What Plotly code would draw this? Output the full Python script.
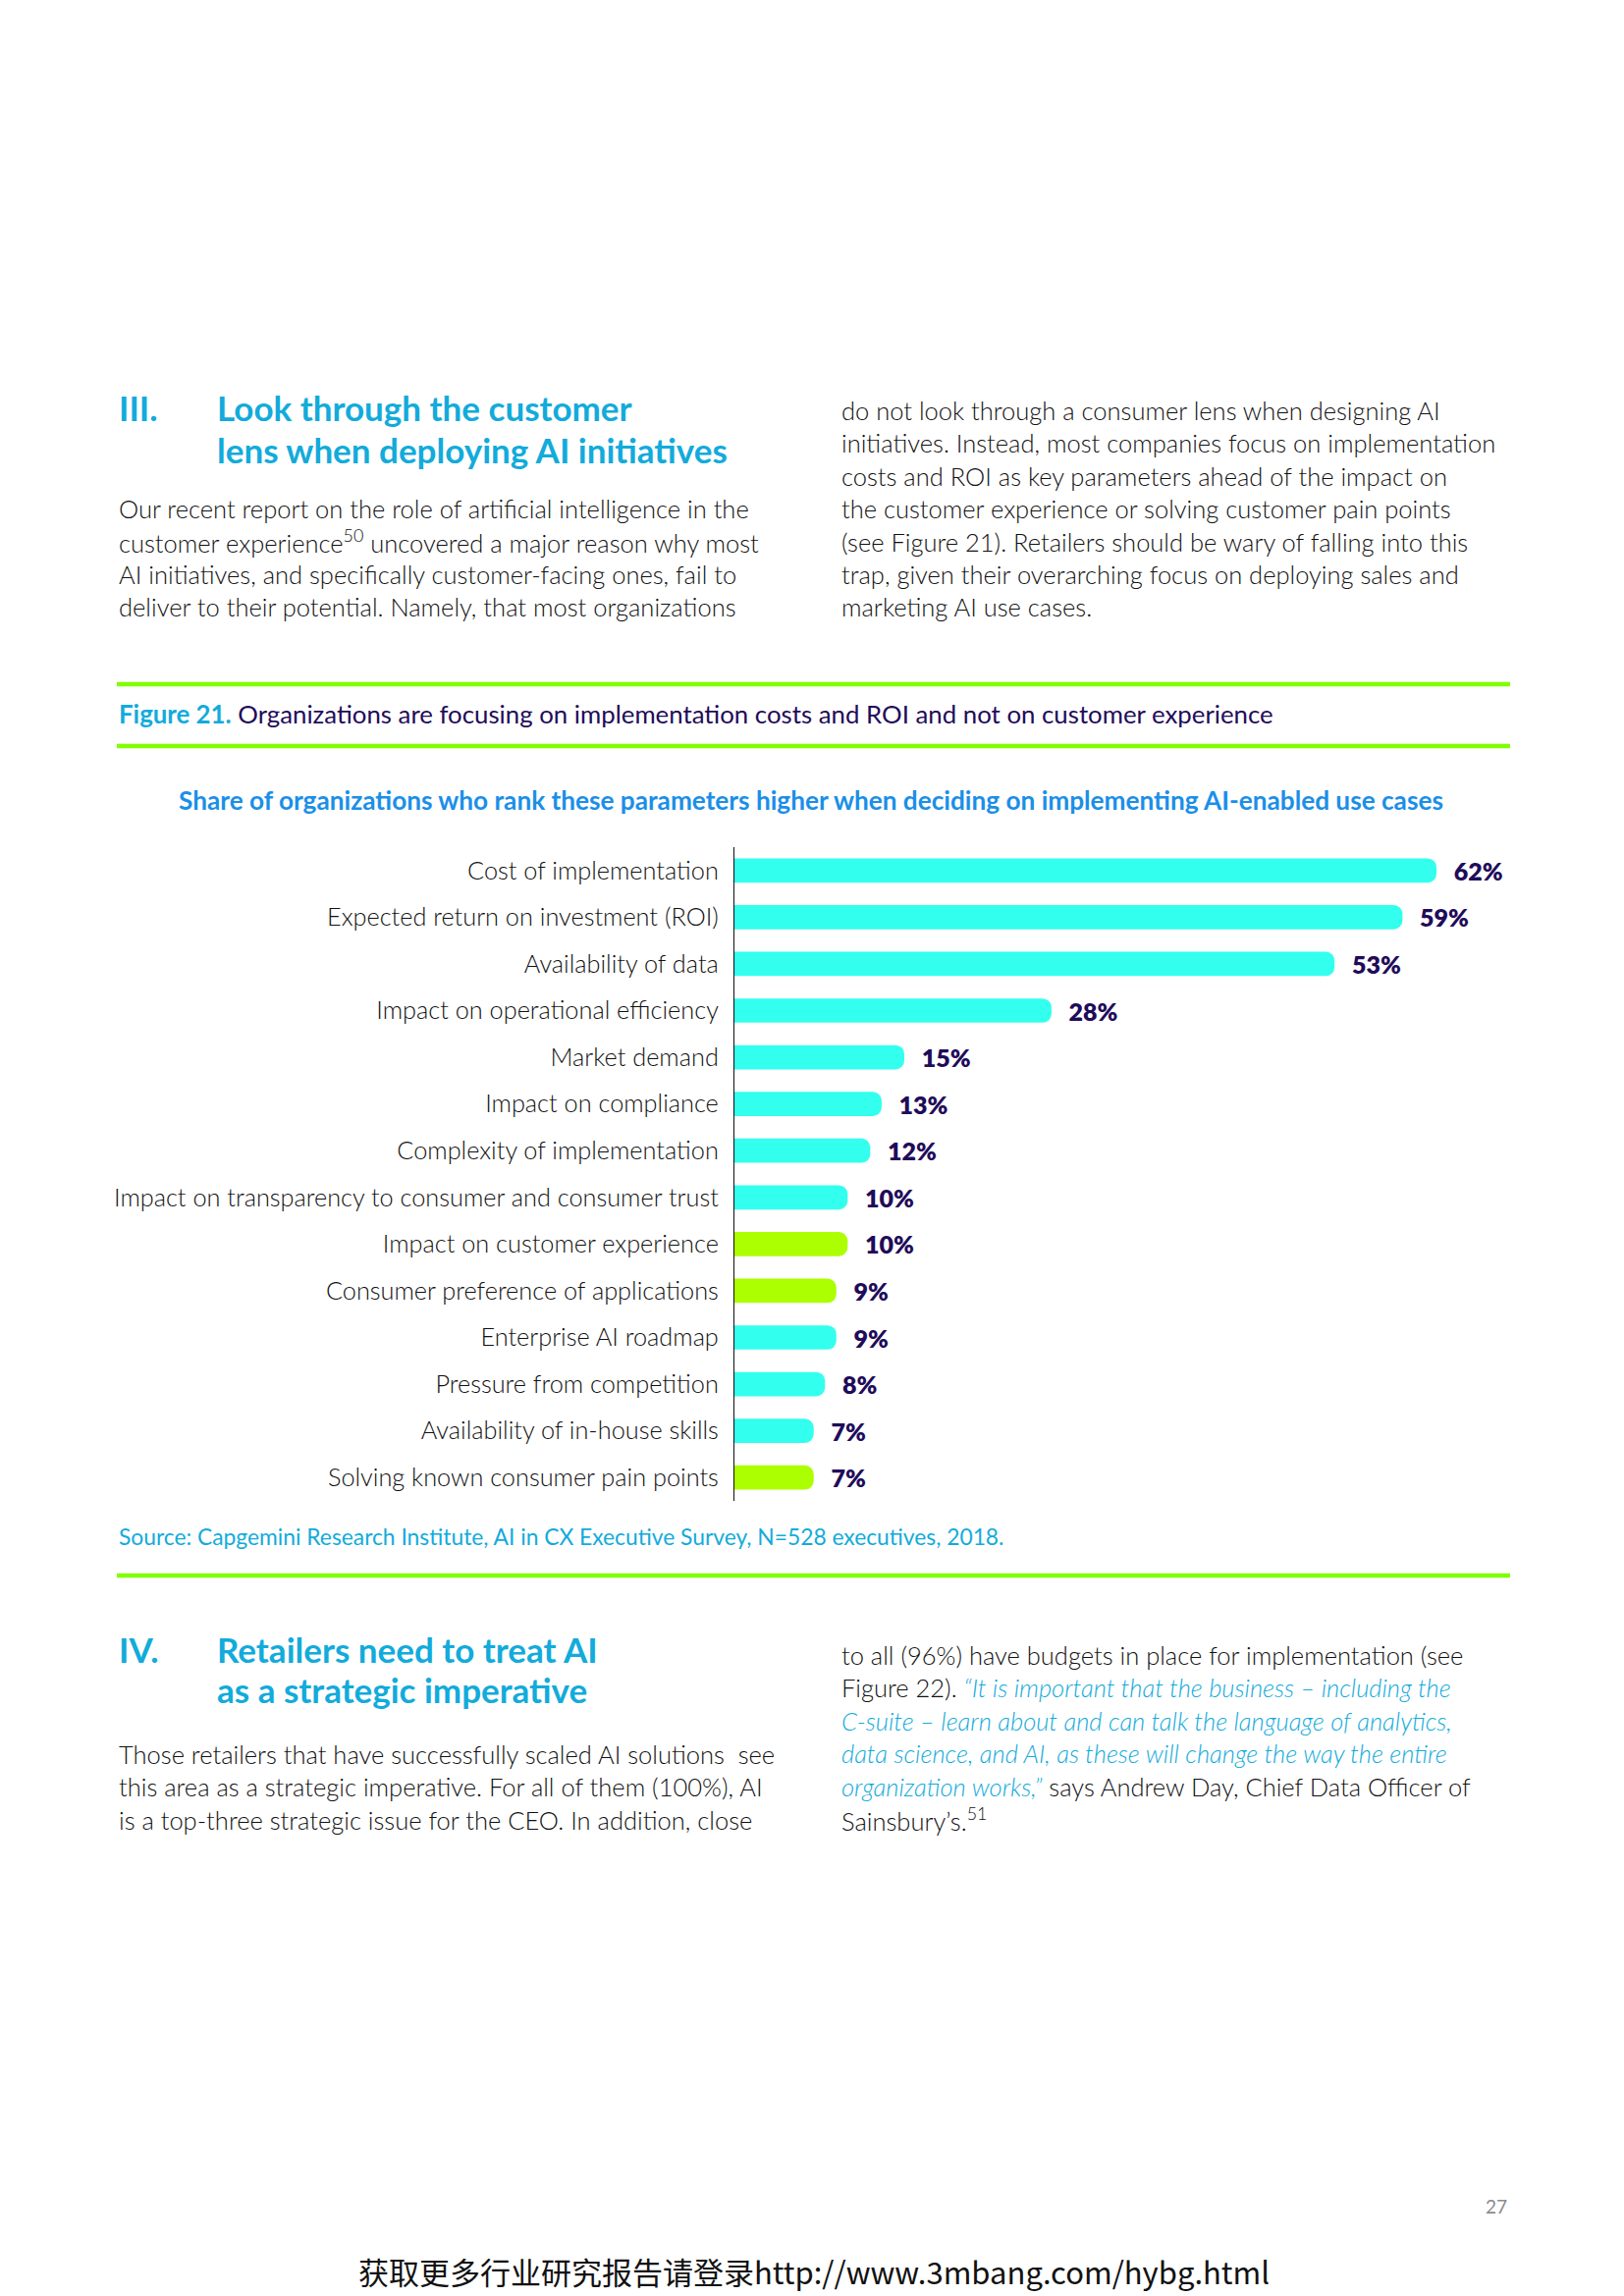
import plotly.graph_objects as go

# page is 1654x2339; the HTML body adds an 8px margin, so the figure is
# drawn 8px in from the top-left corner and is 8px smaller each way.
PAGE_W, PAGE_H = 1654, 2339
OFF = 8
W, H = PAGE_W - OFF, PAGE_H - OFF

# ---------------- data ----------------
categories = [
    "Cost of implementation",
    "Expected return on investment (ROI)",
    "Availability of data",
    "Impact on operational efficiency",
    "Market demand",
    "Impact on compliance",
    "Complexity of implementation",
    "Impact on transparency to consumer and consumer trust",
    "Impact on customer experience",
    "Consumer preference of applications",
    "Enterprise AI roadmap",
    "Pressure from competition",
    "Availability of in-house skills",
    "Solving known consumer pain points",
]
values = [62, 59, 53, 28, 15, 13, 12, 10, 10, 9, 9, 8, 7, 7]
customer_focused = [False, False, False, False, False, False, False, False,
                    True, True, False, False, False, True]

CYAN = "#33ffee"
LIME = "#acff00"
RULE = "#80ff00"
BLUE = "#12abdb"
SUB_BLUE = "#1b8fe8"
NAVY = "#1f0c5a"
TEXT = "#111111"

bar_colors = [LIME if c else CYAN for c in customer_focused]
labels = ["\u00a0\u00a0\u2009" + f"{v}%" for v in values]


def px(x):
    return (x - OFF) / W


def py(y):
    return 1 - (y - OFF) / H


fig = go.Figure()
fig.add_trace(go.Bar(
    y=categories, x=values, orientation="h",
    marker=dict(color=bar_colors, line=dict(width=0), cornerradius=9),
    width=0.52,
    text=labels, textposition="outside", constraintext="none",
    textfont=dict(family="Lato", size=25, color=NAVY, weight=800),
    cliponaxis=False, hoverinfo="skip",
))

annotations = []


def txt(x, y, s, size=25.5, color=TEXT, weight=300, family="Lato", xanchor="left"):
    annotations.append(dict(
        x=px(x), y=py(y), xref="paper", yref="paper", text=s, showarrow=False,
        xanchor=xanchor, yanchor="middle",
        font=dict(family=family, size=size, color=color, weight=weight),
    ))


HEAD = 35
LS = 33.4

# Section III heading
txt(119, 415, "III.", size=HEAD, color=BLUE, weight=700)
txt(219, 415, "Look through the customer", size=HEAD, color=BLUE, weight=700)
txt(219, 458, "lens when deploying AI initiatives", size=HEAD, color=BLUE, weight=700)

left1 = [
    "Our recent report on the role of artificial intelligence in the",
    "customer experience<sup>50</sup> uncovered a major reason why most",
    "AI initiatives, and specifically customer-facing ones, fail to",
    "deliver to their potential. Namely, that most organizations",
]
for i, s in enumerate(left1):
    txt(119, 518 + i * LS, s)

right1 = [
    "do not look through a consumer lens when designing AI",
    "initiatives. Instead, most companies focus on implementation",
    "costs and ROI as key parameters ahead of the impact on",
    "the customer experience or solving customer pain points",
    "(see Figure 21). Retailers should be wary of falling into this",
    "trap, given their overarching focus on deploying sales and",
    "marketing AI use cases.",
]
for i, s in enumerate(right1):
    txt(855, 418 + i * LS, s)

# Figure caption
txt(119, 727, f"<span style='color:{BLUE}'><b>Figure 21.</b></span> "
    "Organizations are focusing on implementation costs and ROI and not on customer experience",
    size=25.8, color=NAVY, weight=400)

# Chart subtitle
txt(826, 815, "Share of organizations who rank these parameters higher when deciding on implementing AI-enabled use cases",
    size=26.2, color=SUB_BLUE, weight=700, xanchor="center")

# Source
txt(119, 1565, "Source: Capgemini Research Institute, AI in CX Executive Survey, N=528 executives, 2018.",
    size=22.8, color=BLUE, weight=400)

# Section IV
txt(119, 1680, "IV.", size=HEAD, color=BLUE, weight=700)
txt(219, 1680, "Retailers need to treat AI", size=HEAD, color=BLUE, weight=700)
txt(219, 1721, "as a strategic imperative", size=HEAD, color=BLUE, weight=700)

left2 = [
    "Those retailers that have successfully scaled AI solutions  see",
    "this area as a strategic imperative. For all of them (100%), AI",
    "is a top-three strategic issue for the CEO. In addition, close",
]
for i, s in enumerate(left2):
    txt(119, 1787 + i * LS, s)

qs = f"<span style='color:{BLUE}'><i>"
qe = "</i></span>"
right2 = [
    "to all (96%) have budgets in place for implementation (see",
    "Figure 22). " + qs + "“It is important that the business – including the" + qe,
    qs + "C-suite – learn about and can talk the language of analytics," + qe,
    qs + "data science, and AI, as these will change the way the entire" + qe,
    qs + "organization works,”" + qe + " says Andrew Day, Chief Data Officer of",
    "Sainsbury’s.<sup>51</sup>",
]
for i, s in enumerate(right2):
    txt(855, 1686 + i * LS, s)

# Page number and footer
txt(1524, 2247, "27", size=19, color="#8a8a8a", weight=400, xanchor="center")
txt(829, 2313, "获取更多行业研究报告请登录http://www.3mbang.com/hybg.html",
    size=31, color="#111111", weight=400, family="Noto Sans CJK SC", xanchor="center")

shapes = []
for yy in (697, 760, 1605):
    shapes.append(dict(type="line", xref="paper", yref="paper",
                       x0=px(119), x1=px(1538), y0=py(yy), y1=py(yy),
                       line=dict(color=RULE, width=4.5)))

fig.update_layout(
    width=W, height=H,
    margin=dict(l=0, r=0, t=0, b=0),
    paper_bgcolor="white", plot_bgcolor="white",
    showlegend=False,
    annotations=annotations,
    shapes=shapes,
    xaxis=dict(domain=[px(748), px(1538)], range=[0, 68.5], visible=False,
               showgrid=False, zeroline=False, fixedrange=True),
    yaxis=dict(domain=[py(1529), py(863)], autorange="reversed",
               showgrid=False, zeroline=False, showline=True,
               linecolor="#111111", linewidth=1.2, ticks="",
               ticklabelstandoff=10,
               tickfont=dict(family="Lato", size=25.3, color=TEXT, weight=300)),
)

fig.write_html("out.html")
